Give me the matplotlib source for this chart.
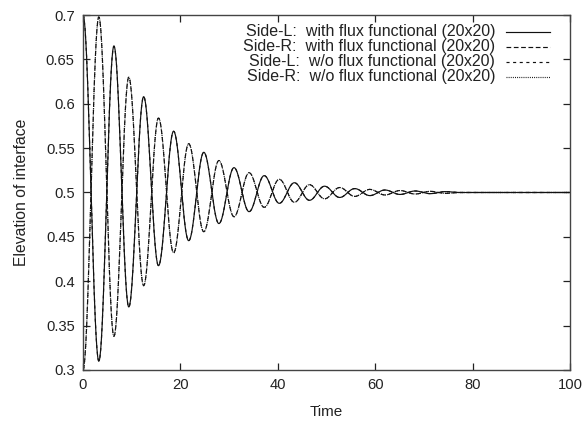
import numpy as np
import matplotlib
matplotlib.use("Agg")
import matplotlib.pyplot as plt
from matplotlib.ticker import MultipleLocator, FormatStrFormatter

plt.rcParams["font.family"] = ["Liberation Sans", "DejaVu Sans"]

# times of successive extrema
t_ext = [0.0, 3.25, 6.35, 9.4, 12.45, 15.5, 18.6, 21.7, 24.8, 27.9, 31.0,
         34.1, 37.2, 40.3, 43.4, 46.5, 49.6, 52.7, 55.8, 58.9, 62.0, 65.1,
         68.2, 71.3, 74.4, 77.5]

# elevation at those extrema, side L and side R
side_l = [0.700, 0.310, 0.665, 0.371, 0.608, 0.4175, 0.569, 0.4457, 0.5453,
          0.465, 0.528, 0.4784, 0.519, 0.4878, 0.511, 0.4912, 0.5071, 0.4944,
          0.5044, 0.4965, 0.5028, 0.4978, 0.5017, 0.4987, 0.5010, 0.500]
side_r = [0.300, 0.698, 0.338, 0.630, 0.395, 0.584, 0.432, 0.555, 0.4558,
          0.536, 0.4727, 0.5223, 0.4833, 0.5149, 0.489, 0.5088, 0.4929, 0.5056,
          0.4956, 0.5035, 0.4972, 0.5022, 0.4983, 0.5013, 0.4990, 0.500]

# without flux functional the curves coincide with the ones above
side_l_wo = side_l
side_r_wo = side_r

labels = [
    "Side-L:  with flux functional (20x20)",
    "Side-R:  with flux functional (20x20)",
    "Side-L:  w/o flux functional (20x20)",
    "Side-R:  w/o flux functional (20x20)",
]
t_end = 100.0


def smooth_path(times, vals, t_last):
    # half-cosine segments between consecutive extrema
    xs, ys = [], []
    for i in range(len(times) - 1):
        s = np.linspace(0, 1, 40, endpoint=False)
        xs.append(times[i] + (times[i + 1] - times[i]) * s)
        ys.append(vals[i] + (vals[i + 1] - vals[i]) * (1 - np.cos(np.pi * s)) / 2)
    xs.append([times[-1], t_last])
    ys.append([vals[-1], vals[-1]])
    return np.concatenate(xs), np.concatenate(ys)


fig = plt.figure(figsize=(5.83, 4.24), dpi=100)
ax = fig.add_axes([0.1424, 0.1274, 0.8353, 0.8372])

styles = [
    dict(ls="-"),
    dict(ls=(0, (4.0, 2.2))),
    dict(ls=(0, (2.6, 3.0))),
    dict(ls=(0, (0.8, 1.0))),
]
series = [side_l, side_r, side_l_wo, side_r_wo]

for vals, st in zip(series, styles):
    x, y = smooth_path(t_ext, vals, t_end)
    ax.plot(x, y, color="#111111", lw=0.85, **st)

ax.set_xlim(0, 100)
ax.set_ylim(0.3, 0.7)
ax.xaxis.set_major_locator(MultipleLocator(20))
ax.yaxis.set_major_locator(MultipleLocator(0.05))
ax.yaxis.set_major_formatter(FormatStrFormatter("%g"))
ax.tick_params(direction="in", top=True, right=True, length=5, width=0.9,
               labelsize=10.6, colors="#222222", pad=6)
for sp in ax.spines.values():
    sp.set_linewidth(1.0)
    sp.set_color("#444444")

ax.set_xlabel("Time", fontsize=11, labelpad=9, color="#222222")
ax.set_ylabel("Elevation of interface", fontsize=11.3, labelpad=12, color="#222222")

# gnuplot style key: right aligned text, sample line to its right
for i, (lab, st) in enumerate(zip(labels, styles)):
    yk = 0.953 - i * 0.0425
    ax.text(0.846, yk, lab, transform=ax.transAxes, ha="right", va="center",
            fontsize=11.5, color="#222222")
    ax.plot([0.869, 0.959], [yk, yk], transform=ax.transAxes, color="#111111",
            lw=0.85, clip_on=False, **st)

fig.savefig("out.png", dpi=100)
